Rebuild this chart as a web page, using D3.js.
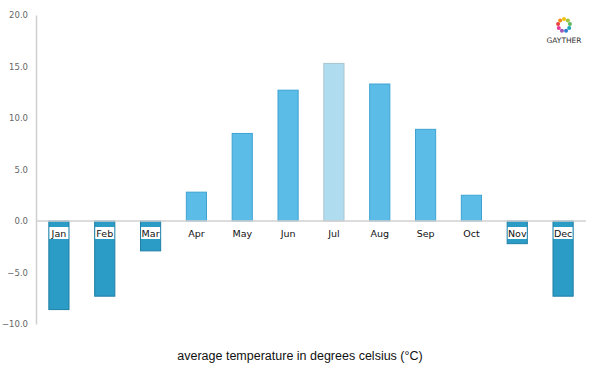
<!DOCTYPE html>
<html>
<head>
<meta charset="utf-8">
<script src="https://cdn.jsdelivr.net/npm/d3@7"></script>
<style>
  body { margin: 0; background: #fff; }
  svg { display: block; }
</style>
</head>
<body>
<svg id="chart" width="600" height="375"></svg>
<script>
const months = ['Jan', 'Feb', 'Mar', 'Apr', 'May', 'Jun', 'Jul', 'Aug', 'Sep', 'Oct', 'Nov', 'Dec'];
const temps = [-8.6, -7.3, -2.9, 2.8, 8.5, 12.7, 15.3, 13.3, 8.9, 2.5, -2.2, -7.3];
const yTicks = [-10, -5, 0, 5, 10, 15, 20];
const highlight = 'Jul';
const logoColors = ['#f4c20d', '#9bc53d', '#5cb85c', '#1fa7b8', '#2e7bcf', '#9b59b6', '#e6399b', '#e8413c', '#f28a1c'];

const width = 600;
const height = 375;
const margin = { top: 15, right: 14, bottom: 50, left: 36 };

const svg = d3.select('#chart');

const x = d3.scaleBand()
  .domain(months)
  .range([margin.left, width - margin.right])
  .paddingInner(0.56)
  .paddingOuter(0.28);

const y = d3.scaleLinear()
  .domain([-10, 20])
  .range([height - margin.bottom - 1, margin.top]);

// y axis
const yAxis = svg.append('g')
  .attr('transform', `translate(${margin.left},0)`)
  .call(d3.axisLeft(y).tickValues(yTicks).tickSize(0).tickPadding(8).tickFormat(d3.format('.1f')));
yAxis.select('.domain').attr('stroke', '#d0d0d0').attr('stroke-width', 1.5);
yAxis.selectAll('text')
  .attr('fill', '#666')
  .style('font-family', 'DejaVu Sans, sans-serif')
  .style('font-size', '8.5px');

// bars
svg.selectAll('.bar')
  .data(months)
  .enter().append('rect')
  .attr('class', 'bar')
  .attr('x', d => x(d))
  .attr('width', x.bandwidth())
  .attr('y', (d, i) => y(Math.max(0, temps[i])))
  .attr('height', (d, i) => Math.abs(y(temps[i]) - y(0)))
  .attr('fill', (d, i) => d === highlight ? '#b0dcf0' : temps[i] < 0 ? '#2a9cc5' : '#5bbde7')
  .attr('stroke', (d, i) => d === highlight ? '#a9c4d0' : temps[i] < 0 ? '#1f7fa6' : '#3fa2d2')
  .attr('stroke-width', 1);

// zero line
svg.append('line')
  .attr('x1', margin.left)
  .attr('x2', width - margin.right)
  .attr('y1', y(0))
  .attr('y2', y(0))
  .attr('stroke', '#d0d0d0')
  .attr('stroke-width', 1.5);

// month labels
const labels = svg.selectAll('.lbl')
  .data(months)
  .enter().append('g')
  .attr('class', 'lbl')
  .attr('transform', d => `translate(${x(d) + x.bandwidth() / 2},${y(0) + 13})`);

labels.filter((d, i) => temps[i] < 0)
  .append('rect')
  .attr('x', -9.5)
  .attr('y', -7)
  .attr('width', 19)
  .attr('height', 12)
  .attr('fill', '#fff');

labels.append('text')
  .attr('text-anchor', 'middle')
  .attr('y', 2.5)
  .attr('fill', '#111')
  .style('font-family', 'DejaVu Sans, sans-serif')
  .style('font-size', '9.5px')
  .text(d => d);

// caption
svg.append('text')
  .attr('x', 300)
  .attr('y', 360)
  .attr('text-anchor', 'middle')
  .attr('fill', '#111')
  .style('font-family', 'Liberation Sans, Arial, sans-serif')
  .style('font-size', '12.5px')
  .text('average temperature in degrees celsius (°C)');

// logo
const logo = svg.append('g').attr('transform', 'translate(564,25)');
logo.selectAll('circle')
  .data(logoColors)
  .enter().append('circle')
  .attr('cx', (d, i) => 6 * Math.cos(i / logoColors.length * 2 * Math.PI - Math.PI / 2))
  .attr('cy', (d, i) => 6 * Math.sin(i / logoColors.length * 2 * Math.PI - Math.PI / 2))
  .attr('r', 2)
  .attr('fill', d => d);
logo.append('text')
  .attr('y', 18)
  .attr('text-anchor', 'middle')
  .attr('fill', '#333')
  .style('font-family', 'DejaVu Sans, sans-serif')
  .style('font-size', '7.5px')
  .text('GAYTHER');
</script>
</body>
</html>
